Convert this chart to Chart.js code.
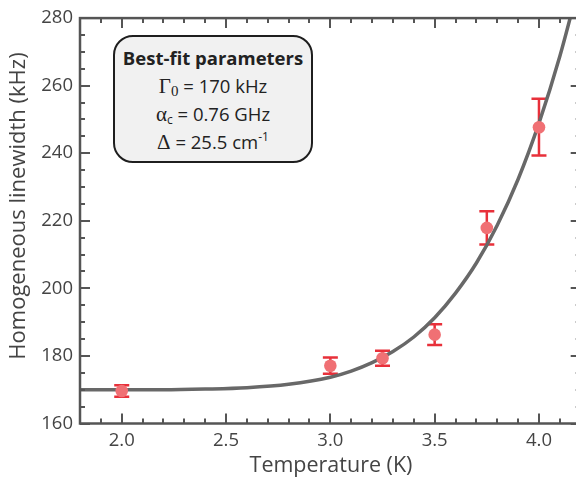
<!DOCTYPE html>
<html>
<head>
<meta charset="utf-8">
<script src="https://cdn.jsdelivr.net/npm/chart.js@4.4.1/dist/chart.umd.min.js"></script>
<style>
  body { margin: 0; background: #fff; overflow: hidden; }
  #wrap { position: relative; width: 576px; height: 480px; overflow: hidden; }
  #fitBox {
    position: absolute; left: 113px; top: 35px; width: 200px; height: 128px;
    box-sizing: border-box; border: 2.5px solid #1e1e1e; border-radius: 20px;
    background: #f1f1f1; font-family: "Open Sans", sans-serif; color: #222;
    text-align: center; font-size: 18.5px; line-height: 28px; padding-top: 7px;
  }
  #fitBox div { height: 28px; white-space: nowrap; }
  #fitBox .hd { font-weight: bold; }
  #fitBox .gk { font-family: "Liberation Serif", serif; font-size: 21px; }
  #fitBox sub { font-size: 12px; vertical-align: -3px; line-height: 0; }
  #fitBox sup { font-size: 12px; vertical-align: 8px; line-height: 0; }
</style>
</head>
<body>
<div id="wrap">
  <canvas id="chart" width="600" height="480"></canvas>
  <div id="fitBox">
    <div class="hd">Best-fit parameters</div>
    <div><span class="gk">Γ</span><sub class="gk" style="font-size:15px">0</sub> = 170 kHz</div>
    <div><span class="gk">α</span><sub>c</sub> = 0.76 GHz</div>
    <div><span class="gk">Δ</span> = 25.5 cm<sup>-1</sup></div>
  </div>
</div>
<script>
// measured linewidths
const temps = [2.0, 3.0, 3.25, 3.5, 3.75, 4.0];
const linewidth = [169.6, 177.1, 179.3, 186.3, 217.9, 247.7];
const errors = [1.7, 2.4, 2.2, 3.1, 4.9, 8.4];

// Orbach fit curve
const fitT = [1.8, 2.0, 2.2, 2.4, 2.6, 2.8, 3.0, 3.1, 3.2, 3.3, 3.4, 3.5, 3.6, 3.7, 3.8, 3.9, 4.0, 4.1, 4.2];
const fitG = [170.0, 170.0, 170.0, 170.2, 170.6, 171.6, 173.7, 175.5, 178.0, 181.3, 185.6, 191.3, 198.6, 207.5, 218.7, 232.3, 248.9, 268.7, 292.0];

const xTicks = [2.0, 2.5, 3.0, 3.5, 4.0];
const yTicks = [160, 180, 200, 220, 240, 260, 280];
const xMinorStep = 0.1;
const yMinorStep = 5;

const axisColor = '#555';
const textColor = '#444';
const fontFamily = '"Open Sans", sans-serif';

// error bars under the markers
const errorBars = {
    id: 'errorBars',
    beforeDatasetsDraw(chart) {
        const ctx = chart.ctx;
        const xs = chart.scales.x, ys = chart.scales.y;
        ctx.save();
        ctx.strokeStyle = '#e8303a';
        ctx.lineWidth = 2.5;
        temps.forEach((t, i) => {
            const px = xs.getPixelForValue(t);
            const top = ys.getPixelForValue(linewidth[i] + errors[i]);
            const bot = ys.getPixelForValue(linewidth[i] - errors[i]);
            ctx.beginPath();
            ctx.moveTo(px, top); ctx.lineTo(px, bot);
            ctx.moveTo(px - 7.5, top); ctx.lineTo(px + 7.5, top);
            ctx.moveTo(px - 7.5, bot); ctx.lineTo(px + 7.5, bot);
            ctx.stroke();
        });
        ctx.restore();
    }
};

// box frame with inward ticks on all four sides, plus axis titles
const frame = {
    id: 'frame',
    afterDraw(chart) {
        const ctx = chart.ctx;
        const a = chart.chartArea;
        const xs = chart.scales.x, ys = chart.scales.y;
        ctx.save();
        ctx.strokeStyle = axisColor;
        ctx.lineWidth = 2;
        for (let v = xs.min; v <= xs.max + 1e-6; v += xMinorStep) {
            const major = xTicks.some(t => Math.abs(t - v) < 1e-6);
            const len = major ? 10 : 5;
            const px = Math.round(xs.getPixelForValue(v));
            ctx.beginPath();
            ctx.moveTo(px, a.bottom); ctx.lineTo(px, a.bottom - len);
            ctx.moveTo(px, a.top); ctx.lineTo(px, a.top + len);
            ctx.stroke();
        }
        for (let v = ys.min; v <= ys.max + 1e-6; v += yMinorStep) {
            const major = yTicks.includes(v);
            const len = major ? 10 : 5;
            const py = Math.round(ys.getPixelForValue(v));
            ctx.beginPath();
            ctx.moveTo(a.left, py); ctx.lineTo(a.left + len, py);
            ctx.moveTo(a.right, py); ctx.lineTo(a.right - len, py);
            ctx.stroke();
        }
        ctx.lineWidth = 2.5;
        ctx.strokeRect(a.left, a.top, a.right - a.left, a.bottom - a.top);

        ctx.fillStyle = textColor;
        ctx.font = '21.5px ' + fontFamily;
        ctx.textAlign = 'center';
        ctx.textBaseline = 'middle';
        ctx.fillText('Temperature (K)', 331, 466);
        ctx.font = '22px ' + fontFamily;
        ctx.translate(19, 206);
        ctx.rotate(-Math.PI / 2);
        ctx.fillText('Homogeneous linewidth (kHz)', 0, 0);
        ctx.restore();
    }
};

new Chart(document.getElementById('chart'), {
    data: {
        datasets: [
            {
                type: 'line',
                data: fitT.map((t, i) => ({ x: t, y: fitG[i] })),
                borderColor: '#686868',
                borderWidth: 3.5,
                pointRadius: 0,
                cubicInterpolationMode: 'monotone',
                order: 2
            },
            {
                type: 'scatter',
                data: temps.map((t, i) => ({ x: t, y: linewidth[i] })),
                backgroundColor: '#f07074',
                borderWidth: 0,
                pointRadius: 6.3,
                order: 1
            }
        ]
    },
    options: {
        responsive: false,
        animation: false,
        layout: { padding: { left: 0, top: 13.5, right: 19.3, bottom: 0 } },
        plugins: { legend: { display: false }, tooltip: { enabled: false } },
        scales: {
            x: {
                type: 'linear', min: 1.8, max: 4.2,
                grid: { display: false, drawTicks: false },
                border: { display: false },
                afterFit: scale => { scale.height = 56.5; },
                afterBuildTicks: scale => { scale.ticks = xTicks.map(v => ({ value: v })); },
                ticks: {
                    padding: 6, color: textColor, maxRotation: 0,
                    font: { family: fontFamily, size: 18.5 },
                    callback: v => v.toFixed(1)
                }
            },
            y: {
                type: 'linear', min: 160, max: 280,
                grid: { display: false, drawTicks: false },
                border: { display: false },
                afterFit: scale => { scale.width = 80; },
                afterBuildTicks: scale => { scale.ticks = yTicks.map(v => ({ value: v })); },
                ticks: {
                    padding: 7, color: textColor,
                    font: { family: fontFamily, size: 18.5 }
                }
            }
        }
    },
    plugins: [errorBars, frame]
});
</script>
</body>
</html>
